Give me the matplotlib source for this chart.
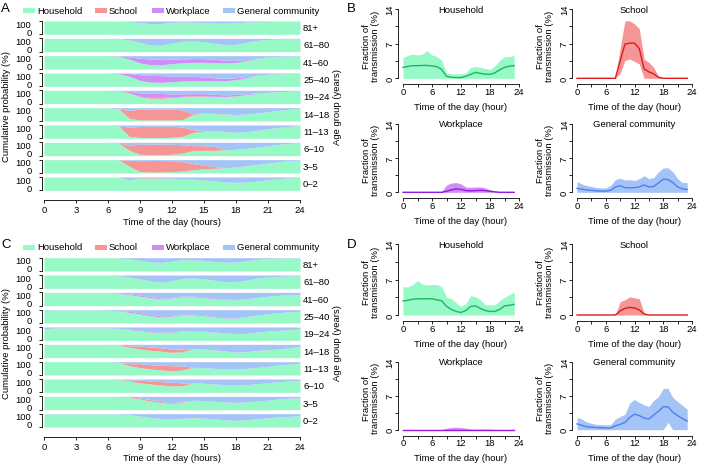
import numpy as np
import matplotlib.pyplot as plt
from matplotlib.patches import Rectangle

plt.rcParams['font.family'] = ['Liberation Sans', 'DejaVu Sans']
plt.rcParams['font.size'] = 6.8
plt.rcParams['axes.linewidth'] = 0.6

# ---------------- data ----------------
hours = np.arange(25)          # strip panels, 0..24 h
hour_pts = np.arange(24)       # fraction panels, 0..23 h
age_groups = ['81+', '61–80', '41–60', '25–40', '19–24', '14–18', '11–13', '6–10', '3–5', '0–2']
categories = ['Household', 'School', 'Workplace', 'General community']

# panel A, cumulative share (%) by setting, rows follow age_groups
a_household = [
    [100,100,100,100,100,100,100,100, 97,88,80,81,90,92,91,88,84,84,87,92,95,97,98,99,100],
    [100,100,100,100,100,100,100, 97,88,70,50,48,65,78,80,75,62,52,55,70,85,92,95,97,98],
    [100,100,100,100,100,100,100, 95,75,45,32,32,40,48,50,50,48,45,50,62,80,90,94,96,97],
    [100,100,100,100,100,100,100, 95,75,45,32,30,35,40,42,42,42,42,50,65,82,90,94,96,97],
    [100,100,100,100,100,100,100, 96,80,50,40,40,45,52,55,55,52,52,58,68,78,85,90,93,95],
    [100,100,100,100,100,100, 98,90,20,8,8,8,8,12,50,58,55,52,48,52,60,70,80,88,95],
    [100,100,100,100,100,100,100, 92,15,6,6,6,8,15,45,55,55,50,45,50,60,72,82,90,95],
    [100,100,100,100,100,100,100, 95,40,10,8,8,10,20,38,40,40,42,48,55,65,75,85,92,96],
    [100,100,100,100,100,100,100,100, 50,10,8,8,10,15,25,30,35,40,45,55,65,75,85,92,96],
    [100,100,100,100,100,100,100,100, 78,90,90,88,86,85,82,78,70,62,60,62,70,80,88,93,97],
]
a_school = [
    [0]*25,
    [0]*25,
    [0]*25,
    [0]*25,
    [0]*8 + [2,6,8,8,6,4,4,4,3,2,1] + [0]*6,
    [0]*8 + [60,80,82,82,82,70,3,3,2,1] + [0]*7,
    [0]*8 + [70,82,84,84,82,70,18,5,3,1] + [0]*7,
    [0]*8 + [40,75,78,78,75,62,37,35,28] + [0]*8,
    [0]*8 + [45,82,85,85,82,70,45,28,12] + [0]*8,
    [0]*9 + [4,4,4,4,3,2,1] + [0]*9,
]
a_workplace = [
    [0]*25,
    [0]*25,
    [0]*7 + [3,15,35,42,40,33,28,28,28,25,20,15,8,3,1] + [0]*3,
    [0]*7 + [4,20,42,50,50,42,35,33,28,22,18,14,8,2] + [0]*4,
    [0]*7 + [2,10,25,30,28,22,18,16,16,15,12,10,6,3,1] + [0]*3,
    [0]*25,
    [0]*25,
    [0]*25,
    [0]*25,
    [0]*25,
]

# panel C
c_household = [
    [100,100,100,100,100,100,100, 97,90,80,68,65,75,85,84,80,72,66,68,78,88,94,96,97,97],
    [100,100,100,100,100,100,100, 95,85,72,55,45,58,75,78,72,60,50,50,62,78,85,90,93,95],
    [97,98,98,98,98,98,96, 92,82,72,60,50,58,68,66,60,52,46,45,52,62,72,78,82,85],
    [95,97,97,97,97,97,95, 90,80,68,55,45,52,64,62,55,45,38,38,48,60,70,78,84,88],
    [88,92,92,92,92,92,92, 88,80,72,62,55,60,72,70,66,60,55,50,52,62,70,75,80,85],
    [100,100,100,100,100,100,100, 95,78,65,55,48,40,45,68,65,58,50,42,45,55,60,65,75,85],
    [100,100,100,100,100,100,100, 95,70,55,45,38,32,38,58,55,50,47,45,50,58,65,75,82,90],
    [100,100,100,100,100,100,100, 96,85,72,62,55,48,50,72,68,62,58,55,58,65,72,80,86,90],
    [100,100,100,100,100,100,100, 97,92,80,65,52,45,58,68,66,62,58,55,58,65,72,80,86,90],
    [98,98,98,98,98,98,98, 97,92,82,72,64,62,66,70,66,60,54,50,54,62,70,76,80,85],
]
c_school = [
    [0]*25,
    [0]*25,
    [0]*25,
    [0]*25,
    [0]*9 + [1,2,2,2,1] + [0]*11,
    [0]*8 + [12,22,25,25,25,20] + [0]*11,
    [0]*8 + [15,30,32,35,38,30] + [0]*11,
    [0]*8 + [8,20,22,25,28,20] + [0]*11,
    [0]*8 + [2,8,10,8,5,4,3,2,1] + [0]*8,
    [0]*25,
]
c_workplace = [
    [0]*25,
    [0]*25,
    [0]*7 + [2,6,8,8,6,4,5,5,5,4,3,2,1] + [0]*5,
    [0]*7 + [2,8,10,10,8,5,6,6,6,5,4,2,1] + [0]*5,
    [0]*7 + [2,4,5,5,4,3,3,3,3,2,2,1] + [0]*6,
    [0]*25,
    [0]*25,
    [0]*25,
    [0]*25,
    [0]*25,
]

# panel B, fraction of transmission (%): median and band
b_hh_med = [2.2,2.4,2.55,2.55,2.6,2.6,2.5,2.35,1.8,0.4,0.2,0.15,0.15,0.4,0.8,1.2,1.0,0.85,0.8,1.1,1.7,2.2,2.45,2.55]
b_hh_hi = [4.2,4.6,4.9,4.7,4.9,5.6,4.7,4.4,3.6,1.1,0.9,0.9,0.9,1.1,2.2,2.4,2.2,2.0,1.8,2.5,3.6,4.4,4.4,4.6]
b_hh_lo = [0]*24
b_sc_med = [0]*9 + [3.5,6.9,7.1,7.1,6.0,1.9,1.3,0.9,0.2] + [0]*6
b_sc_hi = [0]*9 + [6.0,11.6,11.6,11.0,10.0,3.9,3.2,2.2,0.4] + [0]*6
b_sc_lo = [0]*9 + [1.0,3.6,3.9,3.4,2.9] + [0]*10
b_wp_med = [0]*9 + [0.2,0.5,0.7,0.6,0.35,0.3,0.35,0.4,0.35,0.2,0.1] + [0]*4
b_wp_hi = [0.1]*8 + [0.2,1.5,1.9,2.0,1.7,1.1,1.0,1.1,1.1,0.9,0.5,0.25,0.15,0.1,0.1,0.1]
b_wp_lo = [0]*24
b_gc_med = [0.8,0.65,0.5,0.4,0.3,0.25,0.25,0.4,1.1,1.35,0.95,0.9,0.95,1.1,1.5,1.1,1.2,1.9,2.7,2.6,2.0,1.1,0.7,0.6]
b_gc_hi = [2.2,1.7,1.4,1.2,1.0,0.9,0.9,1.4,2.6,2.9,2.5,2.6,2.4,2.8,3.4,2.8,3.0,4.2,5.0,5.0,4.2,2.8,2.0,2.0]
b_gc_lo = [0]*24

# panel D
d_hh_med = [2.75,2.9,3.1,3.2,3.2,3.2,3.2,3.0,2.8,1.7,1.1,0.7,0.5,0.9,1.7,1.8,1.3,0.9,0.7,0.7,1.1,1.8,1.9,2.1]
d_hh_hi = [5.6,5.5,6.0,6.8,6.1,5.9,6.0,6.0,5.6,3.5,3.2,2.4,1.7,2.2,3.8,3.6,3.0,2.0,2.0,2.0,2.8,3.5,4.0,4.5]
d_hh_lo = [0]*24
d_sc_med = [0]*9 + [0.8,1.3,1.5,1.4,1.0,0.2] + [0]*9
d_sc_hi = [0]*9 + [2.6,3.0,3.6,3.4,3.2,0.4] + [0]*9
d_sc_lo = [0]*24
d_wp_med = [0.02]*24
d_wp_hi = [0.05]*9 + [0.3,0.45,0.5,0.45,0.3,0.15,0.12,0.15,0.15,0.12,0.08] + [0.05]*4
d_wp_lo = [0]*24
d_gc_med = [1.2,0.9,0.6,0.5,0.45,0.4,0.35,0.35,0.8,1.1,1.5,2.5,3.2,2.9,2.4,2.2,3.0,3.8,4.7,4.7,3.6,2.9,2.3,1.8]
d_gc_hi = [2.5,2.2,1.6,1.3,1.1,1.05,1.0,1.0,2.2,2.7,3.2,5.5,6.2,5.6,5.1,4.8,6.0,6.8,8.5,8.5,6.6,5.8,5.0,4.2]
d_gc_lo = [0]*19 + [1.5] + [0]*4

# ---------------- style ----------------
fill_cols = ['#96F9C6', '#F59595', '#D08CF7', '#A4C4F7']
line_cols = ['#1FB468', '#E0191E', '#9A17E0', '#4F7EF0']

W, H = 701, 464
fig = plt.figure(figsize=(W / 100, H / 100), dpi=100)


def px_axes(l, t, r, b):
    return fig.add_axes([l / W, 1 - b / H, (r - l) / W, (b - t) / H])


def legend(y):
    for x, name, col in zip([23, 95, 152, 223], categories, fill_cols):
        fig.patches.append(Rectangle((x / W, 1 - (y + 2.5) / H), 12 / W, 5 / H,
                                     transform=fig.transFigure, facecolor=col, lw=0))
        fig.text((x + 14) / W, 1 - y / H, name, va='center', ha='left')


def strip_panel(top, hh, sc, wp):
    pitch, hgt = 17.33, 13.33
    for i, lab in enumerate(age_groups):
        y0 = top + i * pitch
        ax = px_axes(44, y0, 300, y0 + hgt)
        h = np.array(hh[i], float)
        s = np.array(sc[i], float)
        w = np.array(wp[i], float)
        ax.fill_between(hours, 0, h, color=fill_cols[0], lw=0)
        ax.fill_between(hours, h, h + s, color=fill_cols[1], lw=0)
        ax.fill_between(hours, h + s, h + s + w, color=fill_cols[2], lw=0)
        ax.fill_between(hours, h + s + w, 100, color=fill_cols[3], lw=0)
        ax.set_xlim(0, 24)
        ax.set_ylim(0, 100)
        for sp in ['top', 'right', 'bottom']:
            ax.spines[sp].set_visible(False)
        ax.spines['left'].set_bounds(0, 100)
        ax.spines['left'].set_position(('outward', 1.5))
        ax.set_xticks([])
        ax.set_yticks([0, 100])
        ax.set_yticklabels([])
        ax.tick_params(axis='y', length=2, width=0.6)
        # tick labels squeezed inside the strip, as in the original
        ax.annotate('100', xy=(0, 1), xycoords='axes fraction', xytext=(-9, -1.6),
                    textcoords='offset points', ha='right', va='center_baseline')
        ax.annotate('0', xy=(0, 0), xycoords='axes fraction', xytext=(-9, 2.2),
                    textcoords='offset points', ha='right', va='center_baseline')
        ax.text(1.012, 0.5, lab, transform=ax.transAxes, va='center', ha='left')
    bottom = top + 9 * pitch + hgt
    axx = px_axes(44, top, 300, bottom)
    axx.patch.set_visible(False)
    for sp in ['top', 'right', 'left']:
        axx.spines[sp].set_visible(False)
    axx.spines['bottom'].set_position(('outward', 7))
    axx.set_xlim(0, 24)
    axx.set_ylim(0, 1)
    axx.set_xticks(range(0, 25, 3))
    axx.set_yticks([])
    axx.tick_params(axis='x', length=2.4, width=0.6, pad=1.5)
    axx.set_xlabel('Time of the day (hours)', labelpad=1.5)
    mid = (top + bottom) / 2
    fig.text(7 / W, 1 - mid / H, 'Cumulative probability (%)', rotation=90, va='center', ha='center')
    fig.text(337 / W, 1 - mid / H, 'Age group (years)', rotation=90, va='center', ha='center')


def frac_panel(x0, x1, yt, yb, title, med, hi, lo, k):
    sx = (x1 - x0) / 24
    sy = (yb - yt) / 14
    ax = px_axes(x0 - 0.96 * sx, yt - 0.56 * sy, x0 + 24.96 * sx, yb + 1.2 * sy)
    ax.set_xlim(-0.96, 24.96)
    ax.set_ylim(-1.2, 14.56)
    ax.fill_between(hour_pts, lo, hi, color=fill_cols[k], lw=0)
    ax.plot(hour_pts, med, color=line_cols[k], lw=1.0)
    for sp in ['top', 'right']:
        ax.spines[sp].set_visible(False)
    ax.spines['left'].set_bounds(0, 14)
    ax.spines['bottom'].set_bounds(0, 24)
    ax.set_xticks([0, 6, 12, 18, 24])
    ax.set_xticks([3, 9, 15, 21], minor=True)
    ax.set_yticks([0, 7, 14])
    ax.set_yticks([3.5, 10.5], minor=True)
    ax.tick_params(which='both', length=2, width=0.6, pad=-0.2)
    ax.tick_params(axis='y', pad=0.6)
    for t in ax.get_yticklabels():
        t.set_rotation(90)
        t.set_va('center')
    ax.set_xlabel('Time of the day (hour)', labelpad=4.5)
    ax.set_ylabel('Fraction of\ntransmission (%)', labelpad=4, linespacing=1.0)
    ax.text(12, 14, title, ha='center', va='center')


# panel A and C
legend(11)
strip_panel(22.0, a_household, a_school, a_workplace)
legend(248)
strip_panel(258.7, c_household, c_school, c_workplace)

# panel B and D
b_sets = [(b_hh_med, b_hh_hi, b_hh_lo), (b_sc_med, b_sc_hi, b_sc_lo),
          (b_wp_med, b_wp_hi, b_wp_lo), (b_gc_med, b_gc_hi, b_gc_lo)]
d_sets = [(d_hh_med, d_hh_hi, d_hh_lo), (d_sc_med, d_sc_hi, d_sc_lo),
          (d_wp_med, d_wp_hi, d_wp_lo), (d_gc_med, d_gc_hi, d_gc_lo)]
cols_x = [(403, 519), (577, 692)]
for rows_y, sets in [([(10, 79.3), (125, 193.3)], b_sets), ([(245, 316), (362.7, 430.7)], d_sets)]:
    for k in range(4):
        x0, x1 = cols_x[k % 2]
        yt, yb = rows_y[k // 2]
        med, hi, lo = sets[k]
        frac_panel(x0, x1, yt, yb, categories[k], med, hi, lo, k)

for lab, x, y in [('A', 1, 8.5), ('B', 347, 8.5), ('C', 1, 245), ('D', 347, 245)]:
    fig.text(x / W, 1 - y / H, lab, fontsize=9.5, va='center', ha='left')

fig.savefig('out.png', dpi=100)
